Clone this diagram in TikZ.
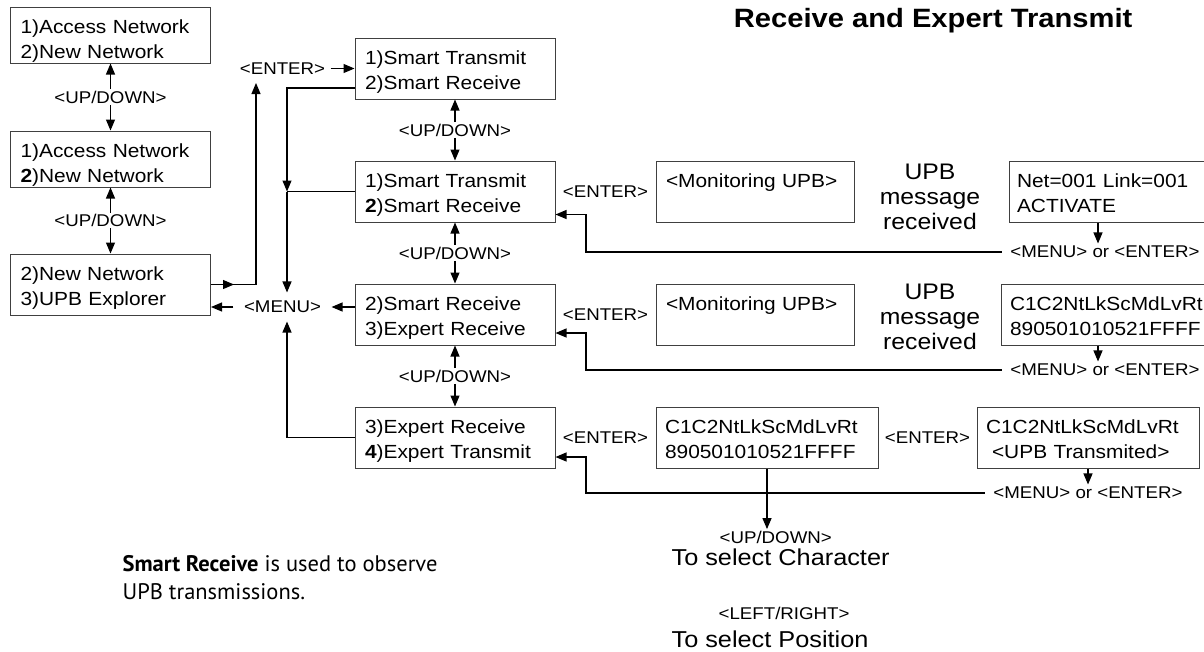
\documentclass[tikz,border=0pt]{standalone}
\usepackage{fontspec}
\setmainfont[FakeStretch=1.1]{Liberation Sans}
\newfontfamily\notefont{PT Sans}
\usepackage{tikz}
\usetikzlibrary{arrows.meta,positioning,calc}

\begin{document}
\begin{tikzpicture}[x=1pt, y=-1pt, node distance=61pt and 100pt, line width=1.2pt, >={Triangle[length=11pt,width=9pt]},
  menubox/.style = {draw=black!75, line width=1pt, rectangle, align=left, text width=180pt, inner xsep=10pt, inner ysep=0pt, minimum height=61pt, font=\fontsize{19}{25}\selectfont, execute at begin node={\rule{0pt}{22pt}}, execute at end node={\rule[-5pt]{0pt}{5pt}}},
  netbox/.style = {menubox, minimum height=56pt, execute at begin node={\rule{0pt}{26pt}}, execute at end node={\rule[-3pt]{0pt}{3pt}}},
  widebox/.style = {menubox, text width=204pt, inner xsep=9pt},
  keylbl/.style = {font=\fontsize{17}{20}\selectfont, inner sep=1pt},
  orlbl/.style = {keylbl, inner xsep=8pt, inner ysep=2pt},
  msg/.style = {align=center, inner sep=0pt, font=\fontsize{22.5}{25}\selectfont},
  hint/.style = {anchor=base west, inner sep=1pt, font=\fontsize{23}{25}\selectfont}]
\useasboundingbox (0,0) rectangle (1204,651);

\node[font=\fontsize{26.5}{30}\selectfont\bfseries, anchor=base east, inner sep=0pt] (title) at (1133,27) {Receive and Expert Transmit};

% network menu
\node[netbox] (netA) at (110.5,35) {1)Access Network\\2)New Network};
\node[netbox] (netB) [below=67pt of netA] {1)Access Network\\\textbf{2})New Network};
\node[menubox] (netC) [below=66pt of netB] {2)New Network\\3)UPB Explorer};

% explorer menu
\node[menubox] (smartA) at (455,68.5) {1)Smart Transmit\\2)Smart Receive};
\node[menubox] (smartB) [below=of smartA] {1)Smart Transmit\\\textbf{2})Smart Receive};
\node[menubox] (smartC) [below=of smartB] {2)Smart Receive\\3)Expert Receive};
\node[menubox] (smartD) [below=of smartC] {3)Expert Receive\\\textbf{4})Expert Transmit};

\node[menubox, text width=178pt] (monA) [right=of smartB] {<Monitoring UPB>\\~};
\node[menubox, text width=178pt] (monB) [right=of smartC] {<Monitoring UPB>\\~};
\node[widebox, inner xsep=8pt] (rxA) [right=154pt of monA] {Net=001 Link=001\\ACTIVATE};
\node[widebox] (rxB) [right=146pt of monB] {C1C2NtLkScMdLvRt\\890501010521FFFF};
\node[widebox] (exA) [right=of smartD] {C1C2NtLkScMdLvRt\\890501010521FFFF};
\node[widebox] (txA) [right=98pt of exA] {C1C2NtLkScMdLvRt\\\hspace*{6pt}<UPB Transmited>};

% key labels
\node[keylbl] (udA) at ($(netA.south)!.5!(netB.north)$) {<UP/DOWN>};
\node[keylbl] (udB) at ($(netB.south)!.5!(netC.north)$) {<UP/DOWN>};
\node[keylbl] (udC) at ($(smartA.south)!.5!(smartB.north)$) {<UP/DOWN>};
\node[keylbl] (udD) at ($(smartB.south)!.5!(smartC.north)$) {<UP/DOWN>};
\node[keylbl] (udE) at ($(smartC.south)!.5!(smartD.north)$) {<UP/DOWN>};
\node[keylbl, inner xsep=5pt] (enterA) at (282.5,68.5) {<ENTER>};
\node[keylbl, inner xsep=10pt, inner ysep=8pt] (menuLbl) at (282.5,307) {<MENU>};
\node[keylbl] (enterB) at ($(smartB.east)!.5!(monA.west)$) {<ENTER>};
\node[keylbl] (enterC) at ($(smartC.east)!.5!(monB.west)$) {<ENTER>};
\node[keylbl] (enterD) at ($(smartD.east)!.5!(exA.west)$) {<ENTER>};
\node[keylbl] (enterE) at ($(exA.east)!.5!(txA.west)$) {<ENTER>};
\node[msg] (msgA) at (930,197) {UPB\\message\\received};
\node[msg] (msgB) at (930,317) {UPB\\message\\received};
\node[orlbl] (orA) at (1105,252) {<MENU> or <ENTER>};
\node[orlbl] (orB) at (1105,370) {<MENU> or <ENTER>};
\node[orlbl] (orC) at (1088,493) {<MENU> or <ENTER>};

\node[hint, font=\fontsize{17}{20}\selectfont] (hintUD) at (718,543) {<UP/DOWN>};
\node[hint] (hintChar) at (670,565) {To select Character};
\node[hint, font=\fontsize{17}{20}\selectfont] (hintLR) at (717,619) {<LEFT/RIGHT>};
\node[hint] (hintPos) at (670,647) {To select Position};

\node[anchor=north west, align=left, inner sep=0pt, font=\notefont\fontsize{22.5}{28}\selectfont] (note) at (122,555) {\textbf{Smart Receive} is used to observe\\UPB transmissions.};

\coordinate (enterFeed) at (256,83);
\coordinate (menuBus) at (287,0);
\coordinate (backBus) at (586,0);

% up/down
\draw[->] (udA) -- (netA);
\draw[->] (udA) -- (netB);
\draw[->] (udB) -- (netB);
\draw[->] (udB) -- (netC);
\draw[->] (udC) -- (smartA);
\draw[->] (udC) -- (smartB);
\draw[->] (udD) -- (smartB);
\draw[->] (udD) -- (smartC);
\draw[->] (udE) -- (smartC);
\draw[->] (udE) -- (smartD);

% enter / menu
\draw[->] (netC.east) -- ++(23,0);
\draw[->] (netC.east) -| (enterFeed);
\draw[->] (enterA) -- (smartA);
\draw[->] ([yshift=-19.5pt]smartA.west) -| (smartB.west -| menuBus);
\draw (smartB.west) -- (smartB.west -| menuBus);
\draw[->] (smartB.west -| menuBus) -- (menuLbl.north -| menuBus);
\draw[->] (smartD.west) -| (menuLbl.south -| menuBus);
\draw[->] (smartC.west |- menuLbl) -- (menuLbl);
\draw[->] (menuLbl) -- (netC.east |- menuLbl);

% back to menu
\draw[->] ([xshift=-7pt]orA.north |- rxA.south) -- ([xshift=-7pt]orA.north);
\draw[->] (orA.west) -- (orA.west -| backBus) |- ([yshift=-23pt]smartB.east);
\draw[->] ([xshift=-7pt]orB.north |- rxB.south) -- ([xshift=-7pt]orB.north);
\draw[->] (orB.west) -- (orB.west -| backBus) |- ([yshift=-18.5pt]smartC.east);
\draw[->] (txA.south) -- (txA.south |- orC.north);
\draw[->] (orC.west) -- (orC.west -| backBus) |- ([yshift=-19.5pt]smartD.east);
\draw[->] (exA.south) -- (exA.south |- hintUD.north);
\end{tikzpicture}
\end{document}
